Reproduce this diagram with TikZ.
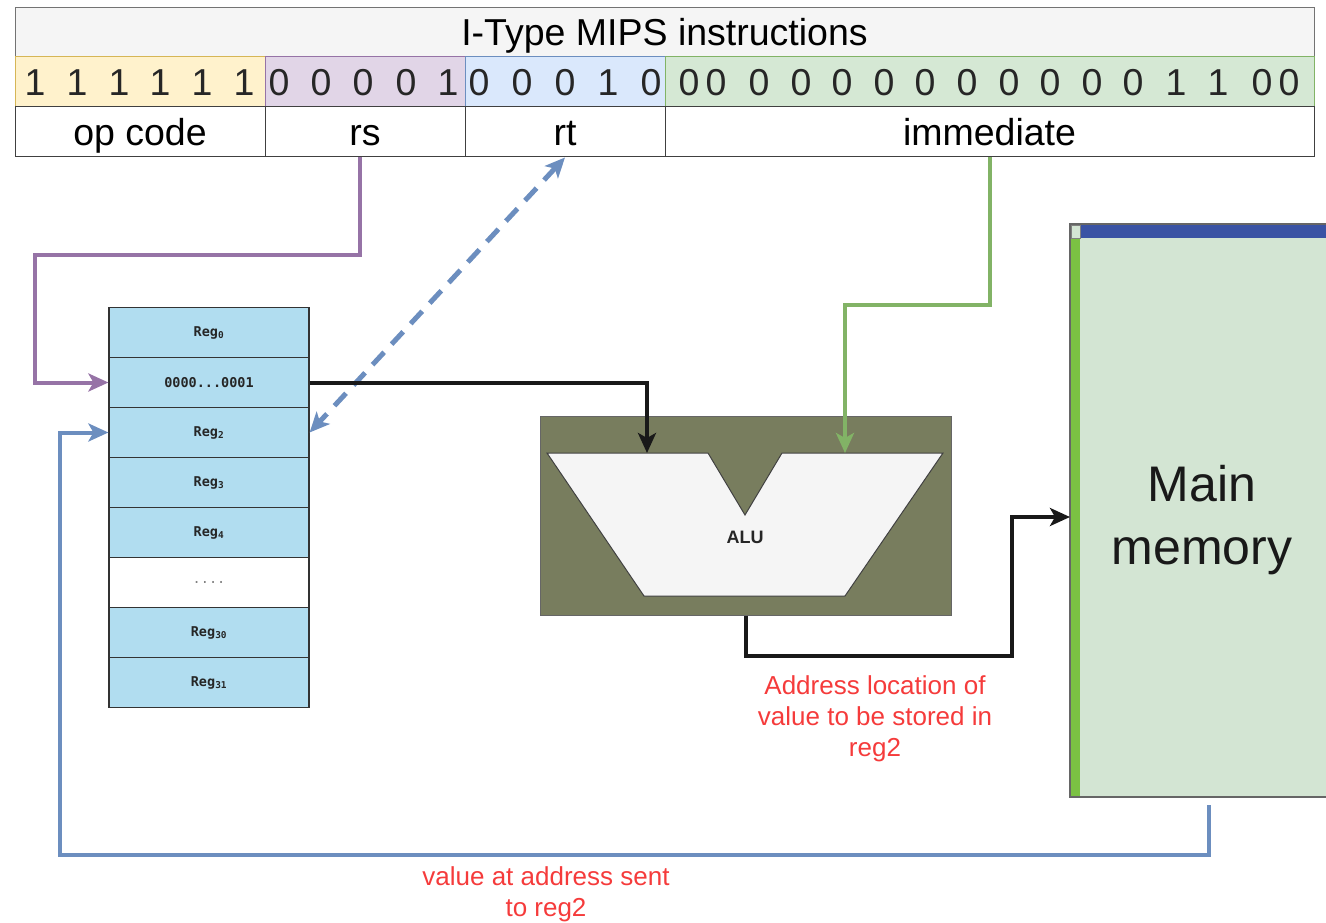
\documentclass[tikz,border=0pt]{standalone}
\usepackage{fontspec}
\setmainfont{Liberation Sans}
\newfontfamily\regfont{DejaVu Sans Mono}
\usetikzlibrary{positioning,calc,arrows.meta}

\definecolor{titlegray}{HTML}{F5F5F5}
\definecolor{opfill}{HTML}{FFF2CC}
\definecolor{opedge}{HTML}{D6B656}
\definecolor{rsfill}{HTML}{E1D5E7}
\definecolor{rsedge}{HTML}{9673A6}
\definecolor{rtfill}{HTML}{DAE8FC}
\definecolor{rtedge}{HTML}{6C8EBF}
\definecolor{immfill}{HTML}{D5E8D4}
\definecolor{immedge}{HTML}{82B366}
\definecolor{regblue}{HTML}{B1DDF0}
\definecolor{aluolive}{HTML}{787D5E}
\definecolor{memgreen}{HTML}{D3E5D3}
\definecolor{barblue}{HTML}{3A53A4}
\definecolor{bargreen}{HTML}{7BC143}
\definecolor{notered}{HTML}{F53B3B}

\begin{document}
\begin{tikzpicture}[x=1pt, y=-1pt]
	\useasboundingbox (0,0) rectangle (1326,923);
	\begin{scope}
		\tikzstyle{every node}=[align=center, inner sep=1pt]
		\tikzstyle{cell}=[draw=black!75, line width=1pt, minimum height=50pt, text height=27pt, text depth=0pt, font=\fontsize{37.5}{44}\selectfont]
		\tikzstyle{bit}=[text height=27pt, text depth=0pt, font=\fontsize{37.5}{44}\selectfont, text=black!85]
		\tikzstyle{reg}=[draw=black!80, line width=1.2pt, fill=regblue, minimum width=200pt, minimum height=50pt, font=\regfont\bfseries\fontsize{13.5}{16}\selectfont, text=black!85]
		\tikzstyle{note}=[text=notered, font=\fontsize{26}{31}\selectfont]
		\tikzstyle{wire}=[line width=4pt, >={Stealth[length=20pt,width=18pt,inset=5pt]}]

		\node[cell, fill=titlegray, draw=black!55, minimum width=1299pt, minimum height=49pt] (title) at (664.5,32.5) {I-Type MIPS instructions};

		\node[cell, fill=opfill, draw=opedge, minimum width=250pt] (opbits) at (140,82) {};
		\node[cell, fill=rsfill, draw=rsedge, minimum width=200pt] (rsbits) at (365,82) {};
		\node[cell, fill=rtfill, draw=rtedge, minimum width=200pt] (rtbits) at (565,82) {};
		\node[cell, fill=immfill, draw=immedge, minimum width=649pt] (immbits) at (989.5,82) {};

		\foreach \x/\b [count=\i] in {35/1,77/1,119/1,160/1,202/1,244/1,
			279/0,321/0,363/0,406/0,448/1,
			479/0,522/0,565/0,608/1,651/0,
			689/0,716/0,759/0,801/0,842/0,884/0,925/0,967/0,1009/0,1050/0,1092/0,1133/0,1176/1,1218/1,1262/0,1289/0}
			\node[bit] (bit\i) at (\x,82) {\b};

		\node[cell, fill=white, minimum width=250pt] (opcode) at (140,132) {op code};
		\node[cell, fill=white, minimum width=200pt] (rs) at (365,132) {rs};
		\node[cell, fill=white, minimum width=200pt] (rt) at (565,132) {rt};
		\node[cell, fill=white, minimum width=649pt] (imm) at (989.5,132) {immediate};

		\node[reg] (r0)  at (209,332.5) {Reg\textsubscript{0}};
		\node[reg] (r1)  at (209,382.5) {0000...0001};
		\node[reg] (r2)  at (209,432.5) {Reg\textsubscript{2}};
		\node[reg] (r3)  at (209,482.5) {Reg\textsubscript{3}};
		\node[reg] (r4)  at (209,532.5) {Reg\textsubscript{4}};
		\node[reg, fill=white, text=black!50, font=\regfont\fontsize{13.5}{16}\selectfont] (rdots) at (209,582.5) {....};
		\node[reg] (r30) at (209,632.5) {Reg\textsubscript{30}};
		\node[reg] (r31) at (209,682.5) {Reg\textsubscript{31}};

		\node[draw=black!60, line width=1pt, fill=aluolive, minimum width=411pt, minimum height=199pt] (alubox) at (745.5,515.5) {};
		\filldraw[fill=titlegray, draw=black!75, line width=1pt] (547,453) -- (708,453) -- (745,515) -- (782,453) -- (943,453) -- (845,596) -- (644,596) -- cycle;
		\node[font=\bfseries\fontsize{18}{22}\selectfont, text=black!85] (alu) at (745,537) {ALU};

		\node[draw=black!60, line width=1.5pt, fill=memgreen, minimum width=260pt, minimum height=573pt] (mem) at (1200,510.5) {};
		\fill[bargreen] (1071,238) rectangle (1080,796);
		\fill[barblue] (1080,225) rectangle (1330,238);
		\filldraw[fill=memgreen, draw=black!50, line width=0.8pt] (1071,225) rectangle (1080,238);
		\node[font=\fontsize{50}{63}\selectfont, text=black!90] (memtext) at (1202,520) {Main\\memory};

		\coordinate (rsbend) at (35,255);
		\coordinate (immbend) at (845,305);
		\coordinate (aluinA) at (647,453);
		\coordinate (aluinB) at (845,453);
		\coordinate (outbend) at (1012,656);
		\coordinate (memin) at (1070,517);
		\coordinate (memout) at (1209,805);
		\coordinate (retbend) at (60,855);

		\draw [wire, draw=rsedge, ->] ([xshift=-5pt]rs.south) |- (rsbend) |- (r1.west);
		\draw [wire, draw=rtedge, <->, line width=5pt, dash pattern=on 17pt off 11pt] (rt.south) to (r2.east);
		\draw [wire, draw=immedge, ->] (imm.south) |- (immbend) -- (aluinB);
		\draw [wire, draw=black!90, ->] (r1.east) -| (aluinA);
		\draw [wire, draw=black!90, ->] (alubox.south) |- (outbend) |- (memin);
		\draw [wire, draw=rtedge, ->] (memout) |- (retbend) |- (r2.west);

		\node[note] (addrnote) at (875,719) {Address location of\\value to be stored in\\reg2};
		\node[note] (valnote) at (546,894) {value at address sent\\to reg2};
	\end{scope}
\end{tikzpicture}
\end{document}
